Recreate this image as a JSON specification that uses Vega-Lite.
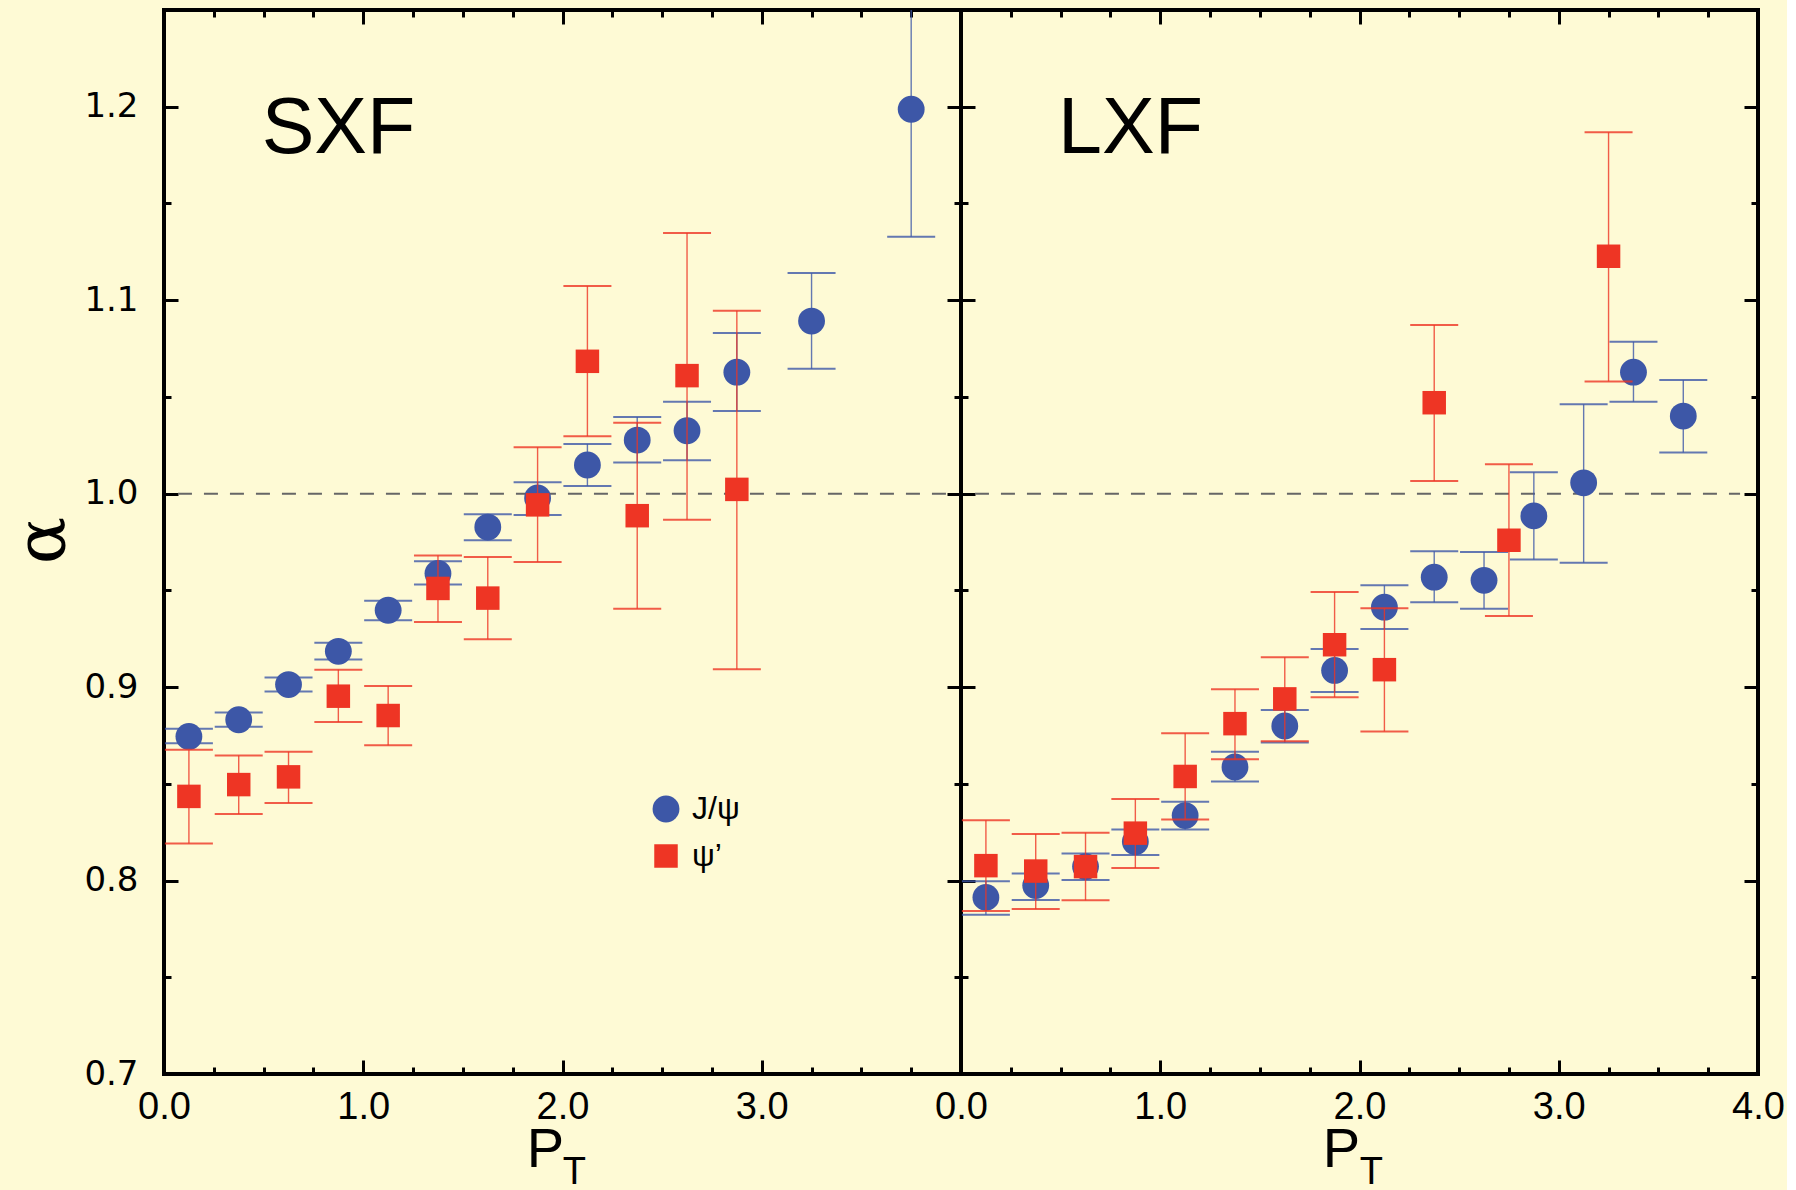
{
  "$schema": "https://vega.github.io/schema/vega-lite/v6.json",
  "background": "#FEFAD5",
  "padding": {"left": 5, "top": 6, "right": 0, "bottom": 0},
  "spacing": 0,
  "bounds": "flush",
  "datasets": {
    "pts": [
      {"panel": "SXF", "series": "J/ψ", "pt": 0.125, "alpha": 0.8745, "lo": 0.871, "hi": 0.8785},
      {"panel": "SXF", "series": "J/ψ", "pt": 0.375, "alpha": 0.8831, "lo": 0.8795, "hi": 0.8869},
      {"panel": "SXF", "series": "J/ψ", "pt": 0.625, "alpha": 0.9013, "lo": 0.8977, "hi": 0.905},
      {"panel": "SXF", "series": "J/ψ", "pt": 0.875, "alpha": 0.9185, "lo": 0.9142, "hi": 0.9229},
      {"panel": "SXF", "series": "J/ψ", "pt": 1.125, "alpha": 0.9397, "lo": 0.9346, "hi": 0.9446},
      {"panel": "SXF", "series": "J/ψ", "pt": 1.375, "alpha": 0.9587, "lo": 0.953, "hi": 0.965},
      {"panel": "SXF", "series": "J/ψ", "pt": 1.625, "alpha": 0.9827, "lo": 0.9759, "hi": 0.9894},
      {"panel": "SXF", "series": "J/ψ", "pt": 1.875, "alpha": 0.9978, "lo": 0.9889, "hi": 1.0059},
      {"panel": "SXF", "series": "J/ψ", "pt": 2.125, "alpha": 1.0148, "lo": 1.0039, "hi": 1.0257},
      {"panel": "SXF", "series": "J/ψ", "pt": 2.375, "alpha": 1.0277, "lo": 1.0161, "hi": 1.0396},
      {"panel": "SXF", "series": "J/ψ", "pt": 2.625, "alpha": 1.0325, "lo": 1.0172, "hi": 1.0475},
      {"panel": "SXF", "series": "J/ψ", "pt": 2.875, "alpha": 1.0628, "lo": 1.0427, "hi": 1.083},
      {"panel": "SXF", "series": "J/ψ", "pt": 3.25, "alpha": 1.0892, "lo": 1.0645, "hi": 1.114},
      {"panel": "SXF", "series": "J/ψ", "pt": 3.75, "alpha": 1.1987, "lo": 1.1328, "hi": 1.265},
      {"panel": "SXF", "series": "ψ’", "pt": 0.125, "alpha": 0.8435, "lo": 0.8191, "hi": 0.8676},
      {"panel": "SXF", "series": "ψ’", "pt": 0.375, "alpha": 0.8496, "lo": 0.8344, "hi": 0.8647},
      {"panel": "SXF", "series": "ψ’", "pt": 0.625, "alpha": 0.8536, "lo": 0.8401, "hi": 0.8666},
      {"panel": "SXF", "series": "ψ’", "pt": 0.875, "alpha": 0.8953, "lo": 0.8819, "hi": 0.909},
      {"panel": "SXF", "series": "ψ’", "pt": 1.125, "alpha": 0.8853, "lo": 0.87, "hi": 0.9005},
      {"panel": "SXF", "series": "ψ’", "pt": 1.375, "alpha": 0.951, "lo": 0.9336, "hi": 0.968},
      {"panel": "SXF", "series": "ψ’", "pt": 1.625, "alpha": 0.946, "lo": 0.9247, "hi": 0.9672},
      {"panel": "SXF", "series": "ψ’", "pt": 1.875, "alpha": 0.9942, "lo": 0.9647, "hi": 1.024},
      {"panel": "SXF", "series": "ψ’", "pt": 2.125, "alpha": 1.0684, "lo": 1.0297, "hi": 1.1073},
      {"panel": "SXF", "series": "ψ’", "pt": 2.375, "alpha": 0.9886, "lo": 0.9405, "hi": 1.0366},
      {"panel": "SXF", "series": "ψ’", "pt": 2.625, "alpha": 1.061, "lo": 0.9865, "hi": 1.1347},
      {"panel": "SXF", "series": "ψ’", "pt": 2.875, "alpha": 1.0022, "lo": 0.9092, "hi": 1.0946},
      {"panel": "LXF", "series": "J/ψ", "pt": 0.125, "alpha": 0.7913, "lo": 0.7823, "hi": 0.7997},
      {"panel": "LXF", "series": "J/ψ", "pt": 0.375, "alpha": 0.7974, "lo": 0.79, "hi": 0.8037},
      {"panel": "LXF", "series": "J/ψ", "pt": 0.625, "alpha": 0.8072, "lo": 0.8003, "hi": 0.814},
      {"panel": "LXF", "series": "J/ψ", "pt": 0.875, "alpha": 0.8201, "lo": 0.8132, "hi": 0.8264},
      {"panel": "LXF", "series": "J/ψ", "pt": 1.125, "alpha": 0.8336, "lo": 0.8264, "hi": 0.8407},
      {"panel": "LXF", "series": "J/ψ", "pt": 1.375, "alpha": 0.8587, "lo": 0.8512, "hi": 0.8666},
      {"panel": "LXF", "series": "J/ψ", "pt": 1.625, "alpha": 0.8799, "lo": 0.8714, "hi": 0.8881},
      {"panel": "LXF", "series": "J/ψ", "pt": 1.875, "alpha": 0.9086, "lo": 0.8975, "hi": 0.9197},
      {"panel": "LXF", "series": "J/ψ", "pt": 2.125, "alpha": 0.9413, "lo": 0.93, "hi": 0.9526},
      {"panel": "LXF", "series": "J/ψ", "pt": 2.375, "alpha": 0.9568, "lo": 0.9439, "hi": 0.9702},
      {"panel": "LXF", "series": "J/ψ", "pt": 2.625, "alpha": 0.9552, "lo": 0.9405, "hi": 0.9698},
      {"panel": "LXF", "series": "J/ψ", "pt": 2.875, "alpha": 0.9885, "lo": 0.9659, "hi": 1.0111},
      {"panel": "LXF", "series": "J/ψ", "pt": 3.125, "alpha": 1.0056, "lo": 0.9643, "hi": 1.0462},
      {"panel": "LXF", "series": "J/ψ", "pt": 3.375, "alpha": 1.0628, "lo": 1.0475, "hi": 1.0785},
      {"panel": "LXF", "series": "J/ψ", "pt": 3.625, "alpha": 1.0401, "lo": 1.0213, "hi": 1.0588},
      {"panel": "LXF", "series": "ψ’", "pt": 0.125, "alpha": 0.8077, "lo": 0.7843, "hi": 0.8312},
      {"panel": "LXF", "series": "ψ’", "pt": 0.375, "alpha": 0.8049, "lo": 0.7853, "hi": 0.8241},
      {"panel": "LXF", "series": "ψ’", "pt": 0.625, "alpha": 0.8072, "lo": 0.7898, "hi": 0.8247},
      {"panel": "LXF", "series": "ψ’", "pt": 0.875, "alpha": 0.8245, "lo": 0.8065, "hi": 0.8421},
      {"panel": "LXF", "series": "ψ’", "pt": 1.125, "alpha": 0.8538, "lo": 0.8316, "hi": 0.8762},
      {"panel": "LXF", "series": "ψ’", "pt": 1.375, "alpha": 0.8811, "lo": 0.8627, "hi": 0.8989},
      {"panel": "LXF", "series": "ψ’", "pt": 1.625, "alpha": 0.8939, "lo": 0.872, "hi": 0.9154},
      {"panel": "LXF", "series": "ψ’", "pt": 1.875, "alpha": 0.9219, "lo": 0.8948, "hi": 0.9492},
      {"panel": "LXF", "series": "ψ’", "pt": 2.125, "alpha": 0.909, "lo": 0.8771, "hi": 0.9407},
      {"panel": "LXF", "series": "ψ’", "pt": 2.375, "alpha": 1.047, "lo": 1.0065, "hi": 1.0872},
      {"panel": "LXF", "series": "ψ’", "pt": 2.75, "alpha": 0.9759, "lo": 0.9367, "hi": 1.0152},
      {"panel": "LXF", "series": "ψ’", "pt": 3.25, "alpha": 1.1227, "lo": 1.058, "hi": 1.1868}
    ]
  },
  "hconcat": [
    {
      "width": 797,
      "height": 1064,
      "layer": [
        {
          "data": {"values": [{"ref": 1.0}]},
          "mark": {"type": "rule", "strokeDash": [14, 12], "color": "#666666", "strokeWidth": 2},
          "encoding": {
            "x": {"datum": 0.07, "type": "quantitative", "scale": {"domain": [0, 4], "nice": false, "zero": false}, "axis": null},
            "x2": {"datum": 3.93},
            "y": {"field": "ref", "type": "quantitative", "scale": {"domain": [0.7, 1.25], "nice": false, "zero": false}, "axis": null}
          }
        },
        {
          "data": {"name": "pts"},
          "transform": [{"filter": "datum.panel === 'SXF' && datum.series === 'J/ψ'"}],
          "mark": {"type": "rule", "color": "#3D57A7", "strokeWidth": 1.4, "opacity": 0.8, "clip": true},
          "encoding": {
            "x": {"field": "pt", "type": "quantitative", "scale": {"domain": [0, 4], "nice": false, "zero": false},
              "axis": {"orient": "bottom", "values": [0, 1, 2, 3], "format": ".1f", "tickSize": -14,
                "tickWidth": 3, "tickColor": "black", "domain": false, "grid": false, "minExtent": 0,
                "labelPadding": 28, "labelFont": "Liberation Sans", "labelFontSize": 38, "labelColor": "black", "labelFlush": false, "labelOverlap": false,
                "title": "P", "titleFont": "Liberation Sans", "titleFontSize": 56, "titleFontWeight": "normal", "titleColor": "black",
                "titleX": 381, "titleY": 92, "titleBaseline": "alphabetic", "titleAlign": "center", "titleAngle": 0}},
            "y": {"field": "lo", "type": "quantitative", "scale": {"domain": [0.7, 1.25], "nice": false, "zero": false},
              "axis": {"orient": "left", "values": [0.7, 0.8, 0.9, 1.0, 1.1, 1.2], "format": ".1f", "tickSize": -14,
                "tickWidth": 3, "tickColor": "black", "domain": false, "grid": false, "minExtent": 0,
                "labelPadding": 40, "labelFont": "DejaVu Sans", "labelFontSize": 34, "labelColor": "black", "labelFlush": false, "labelOverlap": false,
                "title": "α", "titleFont": "DejaVu Serif", "titleFontSize": 70, "titleFontWeight": "normal", "titleColor": "black",
                "titleX": -122, "titleY": 530, "titleBaseline": "middle", "titleAlign": "center"}},
            "y2": {"field": "hi"}
          }
        },
        {
          "data": {"name": "pts"},
          "transform": [{"filter": "datum.panel === 'SXF' && datum.series === 'J/ψ'"}, {"fold": ["lo", "hi"], "as": ["end", "yv"]}],
          "mark": {"type": "tick", "orient": "horizontal", "size": 48, "thickness": 2, "color": "#3D57A7", "opacity": 0.8, "clip": true},
          "encoding": {
            "x": {"field": "pt", "type": "quantitative",
              "axis": {"orient": "bottom", "values": [0.25, 0.5, 0.75, 1.25, 1.5, 1.75, 2.25, 2.5, 2.75, 3.25, 3.5, 3.75], "labels": false, "tickSize": -7,
                "tickWidth": 3, "tickColor": "black", "domain": false, "grid": false, "title": null, "minExtent": 0}},
            "y": {"field": "yv", "type": "quantitative",
              "axis": {"orient": "left", "values": [0.75, 0.85, 0.95, 1.05, 1.15], "labels": false, "tickSize": -7,
                "tickWidth": 3, "tickColor": "black", "domain": false, "grid": false, "title": null, "minExtent": 0}}
          }
        },
        {
          "data": {"name": "pts"},
          "transform": [{"filter": "datum.panel === 'SXF' && datum.series === 'J/ψ'"}],
          "mark": {"type": "point", "filled": true, "opacity": 1, "strokeWidth": 0},
          "encoding": {
            "x": {"field": "pt", "type": "quantitative", "axis": null},
            "y": {"field": "alpha", "type": "quantitative", "axis": null},
            "color": {"field": "series", "type": "nominal", "scale": {"domain": ["J/ψ", "ψ’"], "range": ["#3D57A7", "#EE3524"]},
              "legend": {"orient": "none", "legendX": 486, "legendY": 783, "title": null, "padding": 0, "labelFont": "Liberation Sans", "labelFontSize": 32, "labelColor": "black", "labelOffset": 10, "rowPadding": 15, "symbolStrokeWidth": 0, "symbolOpacity": 1}},
            "shape": {"field": "series", "type": "nominal", "scale": {"domain": ["J/ψ", "ψ’"], "range": ["circle", "square"]},
              "legend": {"orient": "none", "legendX": 486, "legendY": 783, "title": null, "padding": 0, "labelFont": "Liberation Sans", "labelFontSize": 32, "labelColor": "black", "labelOffset": 10, "rowPadding": 15, "symbolStrokeWidth": 0, "symbolOpacity": 1}},
            "size": {"field": "series", "type": "nominal", "scale": {"domain": ["J/ψ", "ψ’"], "range": [720, 552]},
              "legend": {"orient": "none", "legendX": 486, "legendY": 783, "title": null, "padding": 0, "labelFont": "Liberation Sans", "labelFontSize": 32, "labelColor": "black", "labelOffset": 10, "rowPadding": 15, "symbolStrokeWidth": 0, "symbolOpacity": 1}}
          }
        },
        {
          "data": {"name": "pts"},
          "transform": [{"filter": "datum.panel === 'SXF' && datum.series === 'ψ’'"}],
          "mark": {"type": "rule", "color": "#EE3524", "strokeWidth": 1.4, "opacity": 0.8, "clip": true},
          "encoding": {
            "x": {"field": "pt", "type": "quantitative",
              "axis": {"orient": "top", "values": [0, 1, 2, 3], "labels": false, "tickSize": -14,
                "tickWidth": 3, "tickColor": "black", "domain": false, "grid": false, "title": null, "minExtent": 0}},
            "y": {"field": "lo", "type": "quantitative",
              "axis": {"orient": "right", "values": [0.7, 0.8, 0.9, 1.0, 1.1, 1.2], "labels": false, "tickSize": -14,
                "tickWidth": 3, "tickColor": "black", "domain": false, "grid": false, "title": null, "minExtent": 0}},
            "y2": {"field": "hi"}
          }
        },
        {
          "data": {"name": "pts"},
          "transform": [{"filter": "datum.panel === 'SXF' && datum.series === 'ψ’'"}, {"fold": ["lo", "hi"], "as": ["end", "yv"]}],
          "mark": {"type": "tick", "orient": "horizontal", "size": 48, "thickness": 2, "color": "#EE3524", "opacity": 0.8, "clip": true},
          "encoding": {
            "x": {"field": "pt", "type": "quantitative",
              "axis": {"orient": "top", "values": [0.25, 0.5, 0.75, 1.25, 1.5, 1.75, 2.25, 2.5, 2.75, 3.25, 3.5, 3.75], "labels": false, "tickSize": -7,
                "tickWidth": 3, "tickColor": "black", "domain": false, "grid": false, "title": null, "minExtent": 0}},
            "y": {"field": "yv", "type": "quantitative",
              "axis": {"orient": "right", "values": [0.75, 0.85, 0.95, 1.05, 1.15], "labels": false, "tickSize": -7,
                "tickWidth": 3, "tickColor": "black", "domain": false, "grid": false, "title": null, "minExtent": 0}}
          }
        },
        {
          "data": {"name": "pts"},
          "transform": [{"filter": "datum.panel === 'SXF' && datum.series === 'ψ’'"}],
          "mark": {"type": "point", "filled": true, "opacity": 1, "strokeWidth": 0},
          "encoding": {
            "x": {"field": "pt", "type": "quantitative", "axis": null},
            "y": {"field": "alpha", "type": "quantitative", "axis": null},
            "color": {"field": "series", "type": "nominal"},
            "shape": {"field": "series", "type": "nominal"},
            "size": {"field": "series", "type": "nominal"}
          }
        },
        {
          "data": {"values": [{"label": "SXF", "lx": 0.49, "ly": 1.176}]},
          "mark": {"type": "text", "font": "Liberation Sans", "fontSize": 79, "align": "left", "baseline": "alphabetic", "color": "black"},
          "encoding": {
            "x": {"field": "lx", "type": "quantitative", "axis": null},
            "y": {"field": "ly", "type": "quantitative", "axis": null},
            "text": {"field": "label"}
          }
        },
        {
          "data": {"values": [{"label": "T", "lx": 2.06, "ly": 0.7}]},
          "mark": {"type": "text", "font": "Liberation Sans", "fontSize": 38, "align": "center", "baseline": "alphabetic", "color": "black", "dy": 110},
          "encoding": {
            "x": {"field": "lx", "type": "quantitative", "axis": null},
            "y": {"field": "ly", "type": "quantitative", "axis": null},
            "text": {"field": "label"}
          }
        }
      ],
      "resolve": {"axis": {"x": "independent", "y": "independent"}}
    },
    {
      "width": 797,
      "height": 1064,
      "layer": [
        {
          "data": {"values": [{"ref": 1.0}]},
          "mark": {"type": "rule", "strokeDash": [14, 12], "color": "#666666", "strokeWidth": 2},
          "encoding": {
            "x": {"datum": 0.07, "type": "quantitative", "scale": {"domain": [0, 4], "nice": false, "zero": false}, "axis": null},
            "x2": {"datum": 3.91},
            "y": {"field": "ref", "type": "quantitative", "scale": {"domain": [0.7, 1.25], "nice": false, "zero": false}, "axis": null}
          }
        },
        {
          "data": {"name": "pts"},
          "transform": [{"filter": "datum.panel === 'LXF' && datum.series === 'J/ψ'"}],
          "mark": {"type": "rule", "color": "#3D57A7", "strokeWidth": 1.4, "opacity": 0.8, "clip": true},
          "encoding": {
            "x": {"field": "pt", "type": "quantitative", "scale": {"domain": [0, 4], "nice": false, "zero": false},
              "axis": {"orient": "bottom", "values": [0, 1, 2, 3, 4], "format": ".1f", "tickSize": -14,
                "tickWidth": 3, "tickColor": "black", "domain": false, "grid": false, "minExtent": 0,
                "labelPadding": 28, "labelFont": "Liberation Sans", "labelFontSize": 38, "labelColor": "black", "labelFlush": false, "labelOverlap": false,
                "title": "P", "titleFont": "Liberation Sans", "titleFontSize": 56, "titleFontWeight": "normal", "titleColor": "black",
                "titleX": 380, "titleY": 92, "titleBaseline": "alphabetic", "titleAlign": "center", "titleAngle": 0}},
            "y": {"field": "lo", "type": "quantitative", "scale": {"domain": [0.7, 1.25], "nice": false, "zero": false},
              "axis": {"orient": "left", "values": [0.7, 0.8, 0.9, 1.0, 1.1, 1.2], "labels": false, "tickSize": -14,
                "tickWidth": 3, "tickColor": "black", "domain": false, "grid": false, "title": null, "minExtent": 0}},
            "y2": {"field": "hi"}
          }
        },
        {
          "data": {"name": "pts"},
          "transform": [{"filter": "datum.panel === 'LXF' && datum.series === 'J/ψ'"}, {"fold": ["lo", "hi"], "as": ["end", "yv"]}],
          "mark": {"type": "tick", "orient": "horizontal", "size": 48, "thickness": 2, "color": "#3D57A7", "opacity": 0.8, "clip": true},
          "encoding": {
            "x": {"field": "pt", "type": "quantitative",
              "axis": {"orient": "bottom", "values": [0.25, 0.5, 0.75, 1.25, 1.5, 1.75, 2.25, 2.5, 2.75, 3.25, 3.5, 3.75], "labels": false, "tickSize": -7,
                "tickWidth": 3, "tickColor": "black", "domain": false, "grid": false, "title": null, "minExtent": 0}},
            "y": {"field": "yv", "type": "quantitative",
              "axis": {"orient": "left", "values": [0.75, 0.85, 0.95, 1.05, 1.15], "labels": false, "tickSize": -7,
                "tickWidth": 3, "tickColor": "black", "domain": false, "grid": false, "title": null, "minExtent": 0}}
          }
        },
        {
          "data": {"name": "pts"},
          "transform": [{"filter": "datum.panel === 'LXF' && datum.series === 'J/ψ'"}],
          "mark": {"type": "point", "filled": true, "opacity": 1, "strokeWidth": 0, "shape": "circle", "size": 720, "color": "#3D57A7"},
          "encoding": {
            "x": {"field": "pt", "type": "quantitative", "axis": null},
            "y": {"field": "alpha", "type": "quantitative", "axis": null}
          }
        },
        {
          "data": {"name": "pts"},
          "transform": [{"filter": "datum.panel === 'LXF' && datum.series === 'ψ’'"}],
          "mark": {"type": "rule", "color": "#EE3524", "strokeWidth": 1.4, "opacity": 0.8, "clip": true},
          "encoding": {
            "x": {"field": "pt", "type": "quantitative",
              "axis": {"orient": "top", "values": [0, 1, 2, 3], "labels": false, "tickSize": -14,
                "tickWidth": 3, "tickColor": "black", "domain": false, "grid": false, "title": null, "minExtent": 0}},
            "y": {"field": "lo", "type": "quantitative",
              "axis": {"orient": "right", "values": [0.7, 0.8, 0.9, 1.0, 1.1, 1.2], "labels": false, "tickSize": -14,
                "tickWidth": 3, "tickColor": "black", "domain": false, "grid": false, "title": null, "minExtent": 0}},
            "y2": {"field": "hi"}
          }
        },
        {
          "data": {"name": "pts"},
          "transform": [{"filter": "datum.panel === 'LXF' && datum.series === 'ψ’'"}, {"fold": ["lo", "hi"], "as": ["end", "yv"]}],
          "mark": {"type": "tick", "orient": "horizontal", "size": 48, "thickness": 2, "color": "#EE3524", "opacity": 0.8, "clip": true},
          "encoding": {
            "x": {"field": "pt", "type": "quantitative",
              "axis": {"orient": "top", "values": [0.25, 0.5, 0.75, 1.25, 1.5, 1.75, 2.25, 2.5, 2.75, 3.25, 3.5, 3.75], "labels": false, "tickSize": -7,
                "tickWidth": 3, "tickColor": "black", "domain": false, "grid": false, "title": null, "minExtent": 0}},
            "y": {"field": "yv", "type": "quantitative",
              "axis": {"orient": "right", "values": [0.75, 0.85, 0.95, 1.05, 1.15], "labels": false, "tickSize": -7,
                "tickWidth": 3, "tickColor": "black", "domain": false, "grid": false, "title": null, "minExtent": 0}}
          }
        },
        {
          "data": {"name": "pts"},
          "transform": [{"filter": "datum.panel === 'LXF' && datum.series === 'ψ’'"}],
          "mark": {"type": "point", "filled": true, "opacity": 1, "strokeWidth": 0, "shape": "square", "size": 552, "color": "#EE3524"},
          "encoding": {
            "x": {"field": "pt", "type": "quantitative", "axis": null},
            "y": {"field": "alpha", "type": "quantitative", "axis": null}
          }
        },
        {
          "data": {"values": [{"label": "LXF", "lx": 0.487, "ly": 1.176}]},
          "mark": {"type": "text", "font": "Liberation Sans", "fontSize": 79, "align": "left", "baseline": "alphabetic", "color": "black"},
          "encoding": {
            "x": {"field": "lx", "type": "quantitative", "axis": null},
            "y": {"field": "ly", "type": "quantitative", "axis": null},
            "text": {"field": "label"}
          }
        },
        {
          "data": {"values": [{"label": "T", "lx": 2.06, "ly": 0.7}]},
          "mark": {"type": "text", "font": "Liberation Sans", "fontSize": 38, "align": "center", "baseline": "alphabetic", "color": "black", "dy": 110},
          "encoding": {
            "x": {"field": "lx", "type": "quantitative", "axis": null},
            "y": {"field": "ly", "type": "quantitative", "axis": null},
            "text": {"field": "label"}
          }
        }
      ],
      "resolve": {"axis": {"x": "independent", "y": "independent"}}
    }
  ],
  "resolve": {"scale": {"color": "independent", "shape": "independent", "size": "independent"}},
  "config": {
    "view": {"stroke": "black", "strokeWidth": 4},
    "axis": {"minExtent": 0},
    "axisX": {"minExtent": 0},
    "axisY": {"minExtent": 0}
  }
}
